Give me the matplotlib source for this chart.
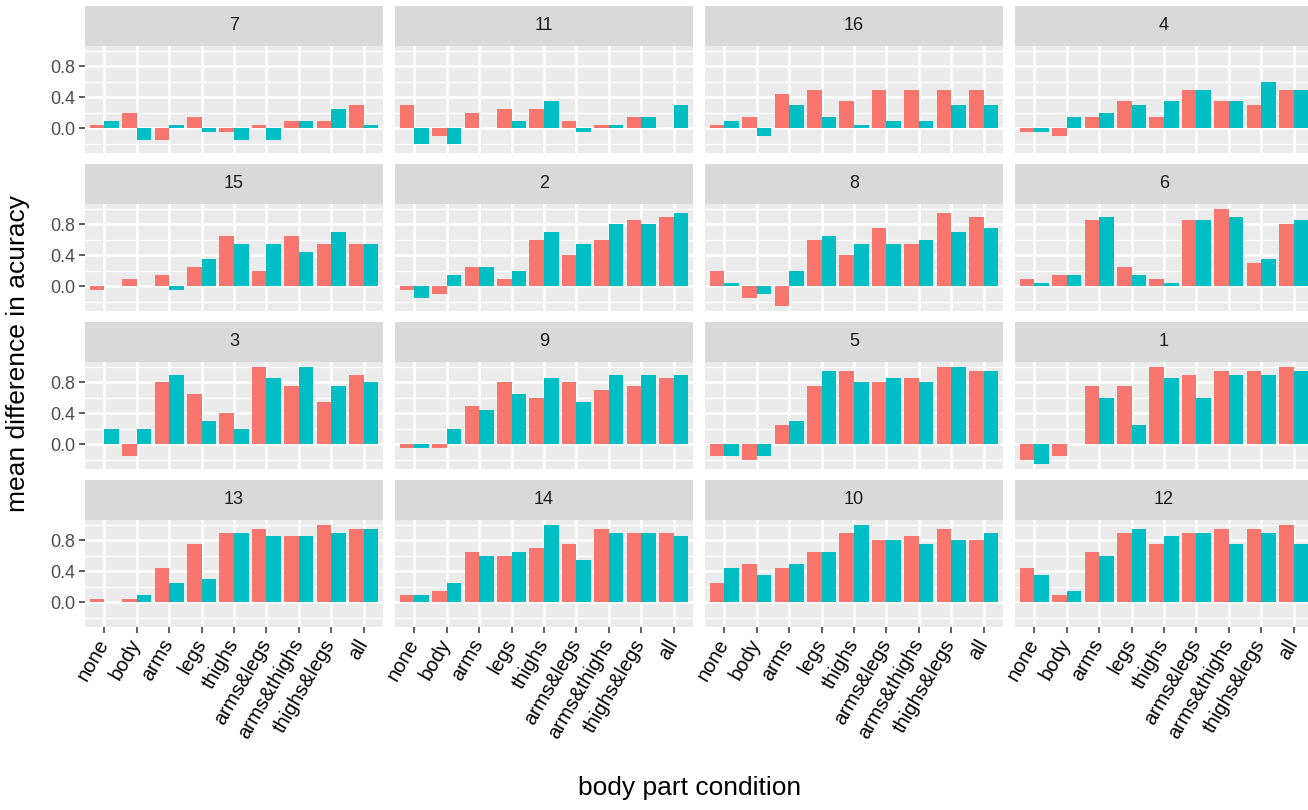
import numpy as np
import matplotlib
matplotlib.use('Agg')
import matplotlib.pyplot as plt

plt.rcParams['font.family'] = ['Liberation Sans', 'DejaVu Sans']

# facet order (4 x 4) and x categories
panels = ['7', '11', '16', '4',
          '15', '2', '8', '6',
          '3', '9', '5', '1',
          '13', '14', '10', '12']
conditions = ['none', 'body', 'arms', 'legs', 'thighs',
              'arms&legs', 'arms&thighs', 'thighs&legs', 'all']

# mean difference in accuracy, first group (red bars), one row per facet
diff_a = [
    [0.05, 0.20, -0.15, 0.15, -0.05, 0.05, 0.10, 0.10, 0.30],   # 7
    [0.30, -0.10, 0.20, 0.25, 0.25, 0.10, 0.05, 0.15, 0.00],    # 11
    [0.05, 0.15, 0.45, 0.50, 0.35, 0.50, 0.50, 0.50, 0.50],     # 16
    [-0.05, -0.10, 0.15, 0.35, 0.15, 0.50, 0.35, 0.30, 0.50],   # 4
    [-0.05, 0.10, 0.15, 0.25, 0.65, 0.20, 0.65, 0.55, 0.55],    # 15
    [-0.05, -0.10, 0.25, 0.10, 0.60, 0.40, 0.60, 0.85, 0.90],   # 2
    [0.20, -0.15, -0.25, 0.60, 0.40, 0.75, 0.55, 0.95, 0.90],   # 8
    [0.10, 0.15, 0.85, 0.25, 0.10, 0.85, 1.00, 0.30, 0.80],     # 6
    [0.00, -0.15, 0.80, 0.65, 0.40, 1.00, 0.75, 0.55, 0.90],    # 3
    [-0.05, -0.05, 0.50, 0.80, 0.60, 0.80, 0.70, 0.75, 0.85],   # 9
    [-0.15, -0.20, 0.25, 0.75, 0.95, 0.80, 0.85, 1.00, 0.95],   # 5
    [-0.20, -0.15, 0.75, 0.75, 1.00, 0.90, 0.95, 0.95, 1.00],   # 1
    [0.05, 0.05, 0.45, 0.75, 0.90, 0.95, 0.85, 1.00, 0.95],     # 13
    [0.10, 0.15, 0.65, 0.60, 0.70, 0.75, 0.95, 0.90, 0.90],     # 14
    [0.25, 0.50, 0.45, 0.65, 0.90, 0.80, 0.85, 0.95, 0.80],     # 10
    [0.45, 0.10, 0.65, 0.90, 0.75, 0.90, 0.95, 0.95, 1.00],     # 12
]

# second group (teal bars)
diff_b = [
    [0.10, -0.15, 0.05, -0.05, -0.15, -0.15, 0.10, 0.25, 0.05], # 7
    [-0.20, -0.20, 0.00, 0.10, 0.35, -0.05, 0.05, 0.15, 0.30],  # 11
    [0.10, -0.10, 0.30, 0.15, 0.05, 0.10, 0.10, 0.30, 0.30],    # 16
    [-0.05, 0.15, 0.20, 0.30, 0.35, 0.50, 0.35, 0.60, 0.50],    # 4
    [0.00, 0.00, -0.05, 0.35, 0.55, 0.55, 0.45, 0.70, 0.55],    # 15
    [-0.15, 0.15, 0.25, 0.20, 0.70, 0.55, 0.80, 0.80, 0.95],    # 2
    [0.05, -0.10, 0.20, 0.65, 0.55, 0.55, 0.60, 0.70, 0.75],    # 8
    [0.05, 0.15, 0.90, 0.15, 0.05, 0.85, 0.90, 0.35, 0.85],     # 6
    [0.20, 0.20, 0.90, 0.30, 0.20, 0.85, 1.00, 0.75, 0.80],     # 3
    [-0.05, 0.20, 0.45, 0.65, 0.85, 0.55, 0.90, 0.90, 0.90],    # 9
    [-0.15, -0.15, 0.30, 0.95, 0.80, 0.85, 0.80, 1.00, 0.95],   # 5
    [-0.25, 0.00, 0.60, 0.25, 0.85, 0.60, 0.90, 0.90, 0.95],    # 1
    [0.00, 0.10, 0.25, 0.30, 0.90, 0.85, 0.85, 0.90, 0.95],     # 13
    [0.10, 0.25, 0.60, 0.65, 1.00, 0.55, 0.90, 0.90, 0.85],     # 14
    [0.45, 0.35, 0.50, 0.65, 1.00, 0.80, 0.75, 0.80, 0.90],     # 10
    [0.35, 0.15, 0.60, 0.95, 0.85, 0.90, 0.75, 0.90, 0.75],     # 12
]

col_a = '#F8766D'
col_b = '#00BFC4'

W, H = 1308, 810
fig = plt.figure(figsize=(W / 100, H / 100), dpi=100)
fig.patch.set_facecolor('white')

# layout in pixels
col_left = [85, 395, 705, 1015]
panel_w = 298
strip_top = [6, 164, 322, 480]
strip_h = 40
panel_h = 106.7

def rect(x, y, w, h):
    return [x / W, 1 - (y + h) / H, w / W, h / H]

xpos = np.arange(1, len(conditions) + 1)
bw = 0.45

for i, name in enumerate(panels):
    r, c = divmod(i, 4)
    x0 = col_left[c]
    y0 = strip_top[r]

    # strip
    sax = fig.add_axes(rect(x0, y0, panel_w, strip_h))
    sax.set_facecolor('#D9D9D9')
    sax.set_xticks([]); sax.set_yticks([])
    for s in sax.spines.values():
        s.set_visible(False)
    sax.text(0.5, 0.5, name, ha='center', va='center', fontsize=13,
             color='#1A1A1A', transform=sax.transAxes)

    # panel
    ax = fig.add_axes(rect(x0, y0 + strip_h, panel_w, panel_h))
    ax.set_facecolor('#EBEBEB')
    for s in ax.spines.values():
        s.set_visible(False)
    ax.set_xlim(0.4, 9.6)
    ax.set_ylim(-0.3125, 1.0625)
    ax.set_axisbelow(True)

    ax.set_yticks([0.0, 0.4, 0.8])
    ax.set_yticks([-0.2, 0.2, 0.6, 1.0], minor=True)
    ax.set_xticks(xpos)
    ax.grid(which='major', color='white', linewidth=1.8)
    ax.grid(which='minor', axis='y', color='white', linewidth=0.9)

    ax.bar(xpos - bw / 2, diff_a[i], width=bw, color=col_a, linewidth=0)
    ax.bar(xpos + bw / 2, diff_b[i], width=bw, color=col_b, linewidth=0)

    ax.tick_params(which='minor', length=0)
    if c == 0:
        ax.set_yticklabels(['0.0', '0.4', '0.8'])
        ax.tick_params(axis='y', length=4, width=1.1, color='#333333',
                       labelsize=13, labelcolor='#4D4D4D', pad=3)
    else:
        ax.tick_params(axis='y', length=0, labelleft=False)
    if r == 3:
        ax.set_xticklabels(conditions, rotation=60, ha='right', va='center',
                           rotation_mode='anchor')
        ax.tick_params(axis='x', length=4, width=1.1, color='#333333',
                       labelsize=14.5, labelcolor='black', pad=6)
    else:
        ax.tick_params(axis='x', length=0, labelbottom=False)

# axis titles
fig.text(18 / W, 1 - 353 / H, 'mean difference in acuracy', rotation=90,
         ha='center', va='center', fontsize=19)
fig.text(690 / W, 1 - 788 / H, 'body part condition',
         ha='center', va='center', fontsize=19)

fig.savefig('out.png', dpi=100)
